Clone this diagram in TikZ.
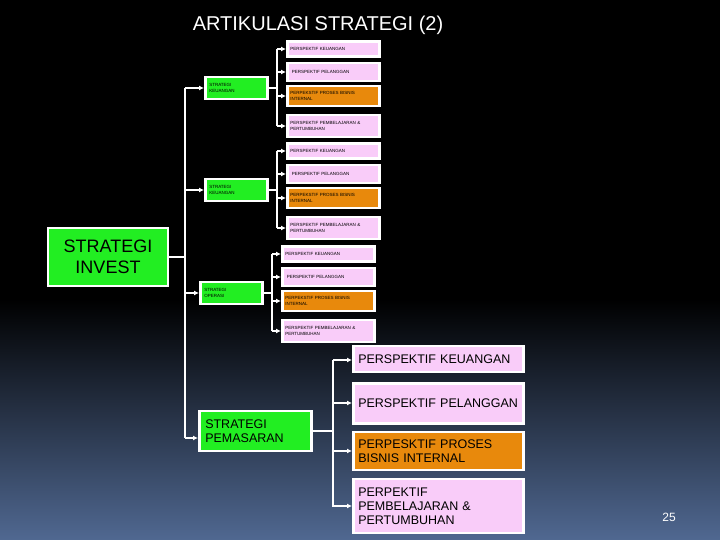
\documentclass[tikz,border=0pt]{standalone}
\usepackage{fontspec}
\setmainfont{Liberation Sans}
\usetikzlibrary{arrows.meta}
\begin{document}
\begin{tikzpicture}[x=1pt,y=-1pt,
  bx/.style={draw=white,line width=2.5pt,inner sep=2pt,align=left,anchor=north west,text=black},
  pk/.style={bx,fill=pink1},
  og/.style={bx,fill=orange1},
  gr/.style={bx,fill=green1},
  tiny/.style={font=\fontsize{4.5}{5.5}\selectfont},
  big/.style={font=\fontsize{12.5}{14}\selectfont},
  ln/.style={draw=white,line width=1.3pt},
  ar/.style={ln,-{Latex[length=5pt,width=5pt]}}]
\definecolor{pink1}{HTML}{F9CCF9}
\definecolor{orange1}{HTML}{E8890C}
\definecolor{green1}{HTML}{22EE22}
\fill[black] (0,0) rectangle (720,300);
\shade[top color=black,bottom color={rgb,255:red,80;green,104;blue,145}] (0,299) rectangle (720,540);
\useasboundingbox (0,0) rectangle (720,540);
\node[font=\fontsize{20}{24}\selectfont,text=white] (title) at (318,25) {ARTIKULASI STRATEGI (2)};
\node[text=white,font=\fontsize{12}{14}\selectfont] (num) at (669,517) {25};
% invest
\node[gr,minimum width=120pt,minimum height=58pt,align=center,anchor=center,font=\fontsize{18}{21}\selectfont] (inv) at (108,257) {STRATEGI\\INVEST};
% trunk
\coordinate (t0) at (185,88);
\coordinate (t1) at (185,438);
\draw[ln] (inv.east) -| (t0);
\draw[ln] (185,257) -- (t1);
% small groups
\foreach \g/\dy/\sx/\vx/\nm in {a/0/204/277/{STRATEGI\\KEUANGAN},b/102/204/277/{STRATEGI\\KEUANGAN},c/205/199/272/{STRATEGI\\OPERASI}}{
  \node[gr,tiny,minimum width=62pt,minimum height=22pt,text width=54pt,anchor=west] (s\g) at (\sx,88+\dy) {\nm};
  \draw[ar] (185,88+\dy) -- (s\g.west);
  \node[pk,tiny,minimum width=92pt,minimum height=15pt,text width=86pt,anchor=west] (k\g) at (\vx+9,49+\dy) {PERSPEKTIF KEUANGAN};
  \node[pk,tiny,minimum width=92pt,minimum height=18pt,text width=86pt,anchor=west] (p\g) at (\vx+9,72+\dy) {\ PERSPEKTIF PELANGGAN};
  \node[og,tiny,minimum width=92pt,minimum height=20pt,text width=86pt,anchor=west] (r\g) at (\vx+9,96+\dy) {PERPEKSTIF PROSES BISNIS\\INTERNAL};
  \node[pk,tiny,minimum width=92pt,minimum height=22pt,text width=86pt,anchor=west] (e\g) at (\vx+9,126+\dy) {PERSPEKTIF PEMBELAJARAN \&\\PERTUMBUHAN};
  \draw[ln] (s\g.east) -- (\vx,88+\dy);
  \draw[ln] (\vx,49+\dy) -- (\vx,126+\dy);
  \foreach \t in {k,p,r,e} \draw[ar] (\vx,0|-\t\g.west) -- (\t\g.west);
}
% large group
\node[gr,big,minimum width=112pt,minimum height=40pt,text width=100pt,anchor=west] (sd) at (198,431) {STRATEGI\\PEMASARAN};
\draw[ar] (t1) -- (sd.west|-t1);
\draw[ln] (sd.east) -- (333,431);
\draw[ln] (333,360) -- (333,507);
\node[pk,big,minimum width=170pt,minimum height=26pt,text width=160pt,anchor=west] (kd) at (352,359) {PERSPEKTIF KEUANGAN};
\node[pk,big,minimum width=170pt,minimum height=40pt,text width=160pt,anchor=north west] (pd) at (352,382) {PERSPEKTIF PELANGGAN\\[2pt]};
\node[og,big,minimum width=170pt,minimum height=38pt,text width=160pt,anchor=west] (rd) at (352,451) {PERPESKTIF PROSES\\BISNIS INTERNAL};
\node[pk,big,minimum width=170pt,minimum height=54pt,text width=160pt,anchor=west] (ed) at (352,506) {PERPEKTIF\\PEMBELAJARAN \&\\PERTUMBUHAN};
\draw[ar] (333,360) -- (kd.west|-0,360);
\draw[ar] (333,403) -- (pd.west|-0,403);
\draw[ar] (333,451) -- (rd.west);
\draw[ar] (333,506) -- (ed.west);
\end{tikzpicture}
\end{document}
